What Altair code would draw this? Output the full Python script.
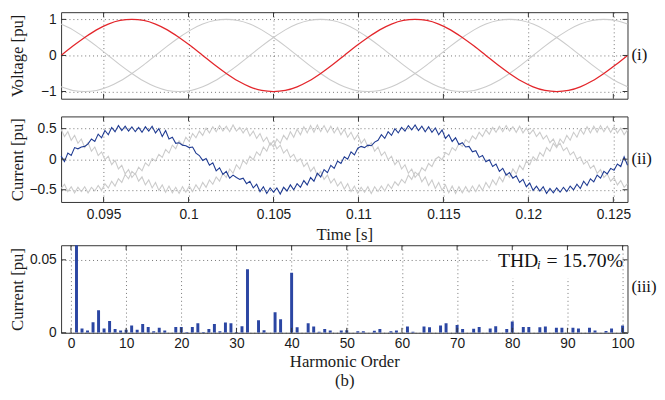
import altair as alt
import pandas as pd

# ---------------- data ----------------
# voltage (pu), sampled every 1/24 of a 60 Hz cycle from t = 0.0925 s
v_t0 = 0.0925
v_step = 1 / 60 / 24
v_red = [0, 0.26, 0.5, 0.71, 0.87, 0.97, 1, 0.97, 0.87, 0.71, 0.5, 0.26, 0, -0.26, -0.5, -0.71, -0.87, -0.97, -1, -0.97, -0.87, -0.71, -0.5, -0.26,
         0, 0.26, 0.5, 0.71, 0.87, 0.97, 1, 0.97, 0.87, 0.71, 0.5, 0.26, 0, -0.26, -0.5, -0.71, -0.87, -0.97, -1, -0.97, -0.87, -0.71, -0.5, -0.26, 0]
v_gray1 = [-0.87, -0.97, -1, -0.97, -0.87, -0.71, -0.5, -0.26, 0, 0.26, 0.5, 0.71, 0.87, 0.97, 1, 0.97, 0.87, 0.71, 0.5, 0.26, 0, -0.26, -0.5, -0.71,
           -0.87, -0.97, -1, -0.97, -0.87, -0.71, -0.5, -0.26, 0, 0.26, 0.5, 0.71, 0.87, 0.97, 1, 0.97, 0.87, 0.71, 0.5, 0.26, 0, -0.26, -0.5, -0.71, -0.87]
v_gray2 = [0.87, 0.71, 0.5, 0.26, 0, -0.26, -0.5, -0.71, -0.87, -0.97, -1, -0.97, -0.87, -0.71, -0.5, -0.26, 0, 0.26, 0.5, 0.71, 0.87, 0.97, 1, 0.97,
           0.87, 0.71, 0.5, 0.26, 0, -0.26, -0.5, -0.71, -0.87, -0.97, -1, -0.97, -0.87, -0.71, -0.5, -0.26, 0, 0.26, 0.5, 0.71, 0.87, 0.97, 1, 0.97, 0.87]

# current (pu), sampled every 1/84 of a cycle from t = 0.0925 s
c_t0 = 0.0925
c_step = 1 / 60 / 84
i_blue = [0.05, -0.04, 0.10, 0.06, 0.19, 0.17, 0.20, 0.21, 0.25, 0.33, 0.29, 0.41, 0.35, 0.47, 0.40, 0.52, 0.45, 0.55, 0.47, 0.54, 0.46,
          0.53, 0.45, 0.52, 0.44, 0.53, 0.46, 0.54, 0.43, 0.50, 0.37, 0.47, 0.33, 0.36, 0.26, 0.27, 0.23, 0.22, 0.19, 0.20, 0.10, 0.06,
          -0.02, 0.01, -0.10, -0.06, -0.19, -0.14, -0.25, -0.20, -0.31, -0.26, -0.30, -0.33, -0.31, -0.40, -0.36, -0.47, -0.41, -0.53, -0.45, -0.56, -0.47,
          -0.54, -0.47, -0.57, -0.46, -0.52, -0.42, -0.50, -0.40, -0.46, -0.35, -0.42, -0.30, -0.36, -0.23, -0.29, -0.17, -0.22, -0.10, -0.15, -0.03, -0.07,
          0.04, 0.00, 0.12, 0.07, 0.18, 0.21, 0.19, 0.23, 0.22, 0.28, 0.31, 0.40, 0.34, 0.45, 0.39, 0.50, 0.43, 0.52, 0.46, 0.55, 0.48,
          0.56, 0.47, 0.54, 0.45, 0.53, 0.44, 0.51, 0.40, 0.48, 0.34, 0.40, 0.29, 0.35, 0.24, 0.27, 0.20, 0.21, 0.12, 0.14, 0.03, 0.06,
          -0.04, -0.01, -0.12, -0.08, -0.20, -0.15, -0.26, -0.22, -0.31, -0.27, -0.38, -0.33, -0.45, -0.39, -0.51, -0.44, -0.52, -0.45, -0.56, -0.48, -0.55,
          -0.47, -0.54, -0.46, -0.53, -0.44, -0.50, -0.41, -0.48, -0.36, -0.43, -0.32, -0.37, -0.26, -0.31, -0.20, -0.24, -0.15, -0.18, -0.08, -0.12, 0.04, -0.10]
i_gray1 = [-0.48, -0.41, -0.53, -0.45, -0.55, -0.46, -0.53, -0.45, -0.55, -0.46, -0.52, -0.43, -0.51, -0.40, -0.47, -0.36, -0.44, -0.32, -0.38, -0.25,
           -0.32, -0.20, -0.25, -0.13, -0.19, -0.06, -0.11, 0.01,
           -0.03, 0.08, 0.03, 0.16, 0.10, 0.23, 0.17, 0.30, 0.23, 0.36, 0.29, 0.42, 0.35, 0.46, 0.39, 0.51, 0.43, 0.53, 0.45, 0.55, 0.46,
           0.54, 0.45, 0.56, 0.46, 0.52, 0.43, 0.51, 0.38, 0.46, 0.34, 0.42, 0.29, 0.36, 0.23, 0.30, 0.17, 0.23, 0.10, 0.16, 0.03, 0.08,
           -0.04, 0.01, -0.12, -0.06, -0.20, -0.13, -0.27, -0.20, -0.33, -0.26, -0.39, -0.32, -0.44, -0.37, -0.49, -0.40, -0.53, -0.44, -0.56, -0.46,
           -0.54, -0.45, -0.56, -0.45, -0.53, -0.44, -0.52, -0.41, -0.48, -0.37, -0.43, -0.33, -0.39, -0.26, -0.33, -0.21, -0.26, -0.14, -0.19, -0.07, -0.12, 0.00,
           0.04, -0.01, 0.11, 0.07, 0.19, 0.14, 0.26, 0.21, 0.32, 0.27, 0.38, 0.33, 0.44, 0.37, 0.48, 0.41, 0.52, 0.44, 0.54, 0.45,
           0.55, 0.46, 0.53, 0.44, 0.54, 0.43, 0.51, 0.41, 0.48, 0.37, 0.44, 0.33, 0.39, 0.27, 0.33, 0.21, 0.26, 0.14, 0.19, 0.07,
           0.12, 0.00, 0.04, -0.08, -0.03, -0.15, -0.10, -0.23, -0.17, -0.30, -0.24, -0.36, -0.30, -0.42, -0.35, -0.46, -0.40]
i_gray2 = [0.49, 0.37, 0.45, 0.31, 0.39, 0.26, 0.33, 0.19, 0.27, 0.13, 0.20, 0.06, 0.12, -0.01, 0.05, -0.09, -0.02, -0.16, -0.10, -0.24,
           -0.17, -0.30, -0.23, -0.36, -0.29, -0.42, -0.34, -0.47, -0.38, -0.51, -0.42, -0.54, -0.44, -0.55, -0.46, -0.56, -0.45, -0.54, -0.44, -0.53,
           -0.42, -0.50, -0.38, -0.46, -0.34, -0.41, -0.29, -0.36, -0.23, -0.30, -0.16, -0.23, -0.09, -0.16, -0.02, -0.08,
           0.05, -0.01, 0.12, 0.06, 0.20, 0.13, 0.27, 0.20, 0.33, 0.26, 0.39, 0.32, 0.45, 0.36, 0.49, 0.40, 0.53, 0.43, 0.55, 0.44, 0.56,
           0.45, 0.55, 0.44, 0.54, 0.43, 0.52, 0.40, 0.49, 0.36, 0.44, 0.32, 0.40, 0.26, 0.33, 0.20, 0.27, 0.13, 0.20, 0.06, 0.12, -0.01,
           0.05, -0.09, -0.02, -0.16, -0.09, -0.23, -0.16, -0.30, -0.23, -0.37, -0.29, -0.43, -0.34, -0.48, -0.38, -0.51, -0.42, -0.55, -0.44, -0.56,
           -0.45, -0.55, -0.45, -0.54, -0.44, -0.53, -0.42, -0.51, -0.38, -0.47, -0.34, -0.42, -0.29, -0.37, -0.23, -0.30, -0.16, -0.24, -0.10, -0.17, -0.03, -0.09,
           0.04, -0.02, 0.11, 0.05, 0.19, 0.13, 0.26, 0.19, 0.33, 0.26, 0.39, 0.31, 0.44, 0.36, 0.49, 0.41, 0.53, 0.43, 0.54, 0.44,
           0.55, 0.45, 0.54, 0.44, 0.53, 0.43, 0.51, 0.40, 0.48]

# harmonic spectrum (pu), orders 1..100
harm_order = list(range(1, 101))
harm_mag = [0.5, 0.003, 0.0015, 0.0072, 0.0155, 0.003, 0.008, 0.0025, 0.0015, 0.002,
            0.005, 0.002, 0.006, 0.004, 0.001, 0.0035, 0.0015, 0.0, 0.004, 0.004,
            0.0005, 0.004, 0.0065, 0.0005, 0.0025, 0.006, 0.001, 0.007, 0.0065, 0.0005,
            0.0045, 0.0435, 0.0, 0.0086, 0.0018, 0.0, 0.014, 0.0093, 0.0, 0.0412,
            0.0038, 0.0, 0.0066, 0.0043, 0.0007, 0.0025, 0.0016, 0.0, 0.0016, 0.0018,
            0.0, 0.0011, 0.0011, 0.0, 0.0013, 0.0025, 0.0, 0.001, 0.0015, 0.0,
            0.0043, 0.0007, 0.0, 0.0043, 0.0038, 0.0, 0.005, 0.0066, 0.0, 0.0054,
            0.0025, 0.0, 0.0027, 0.004, 0.0, 0.003, 0.0045, 0.0, 0.0025, 0.0077,
            0.0, 0.004, 0.004, 0.0, 0.0038, 0.0043, 0.0, 0.0035, 0.0035, 0.0,
            0.0035, 0.003, 0.0, 0.0035, 0.0015, 0.0, 0.0012, 0.003, 0.0, 0.005]

time_ticks = [0.095, 0.1, 0.105, 0.11, 0.115, 0.12, 0.125]
volt_ticks = [-1, 0, 1]
curr_ticks = [-0.5, 0, 0.5]
harm_ticks = [0, 10, 20, 30, 40, 50, 60, 70, 80, 90, 100]
spec_ticks = [0, 0.05]
thd_text = "= 15.70%"

# ---------------- styling ----------------
W = 576
H_TOP, H_MID, H_BOT = 88, 87, 89
FRAME = "#333333"
RED = "#e3262b"
BLUE = "#1f3b92"
BAR = "#2b46a3"
GRAY = "#cbcbcb"
SERIF = "Liberation Serif"

T_DOM = [0.0925, 0.0925 + 1 / 30]
V_DOM = [-1.2, 1.2]
I_DOM = [-0.7, 0.7]
H_DOM = [-0.9, 100]
S_DOM = [0, 0.06]

v_time = [v_t0 + k * v_step for k in range(len(v_red))]
c_time = [c_t0 + k * c_step for k in range(len(i_blue))]

df_v = pd.DataFrame({"x": v_time * 3, "y": v_red + v_gray1 + v_gray2,
                     "ph": ["a"] * len(v_red) + ["b"] * len(v_gray1) + ["c"] * len(v_gray2)})
df_i = pd.DataFrame({"x": c_time * 3, "y": i_blue + i_gray1 + i_gray2,
                     "ph": ["a"] * len(i_blue) + ["b"] * len(i_gray1) + ["c"] * len(i_gray2)})
df_h = pd.DataFrame({"x": harm_order, "y": harm_mag})


def make_panel(main_layers, xdom, ydom, xaxis, yaxis, xticks, yticks, h, side_text, side_y, extra=None):
    """All layers share field names x / y and the very same axis objects."""
    X = alt.X("x:Q", scale=alt.Scale(domain=xdom, nice=False, zero=False), axis=xaxis)
    Y = alt.Y("y:Q", scale=alt.Scale(domain=ydom, nice=False, zero=False), axis=yaxis)
    layers = [m.encode(x=X, y=Y) for m in main_layers]
    for m in (extra or []):
        layers.append(m(X, Y))
    xs = pd.DataFrame({"x": xticks})
    ys = pd.DataFrame({"y": yticks})
    L = 5
    layers.append(alt.Chart(xs).mark_rule(color=FRAME, strokeWidth=1).encode(x=X, y=alt.value(h), y2=alt.value(h - L)))
    layers.append(alt.Chart(xs).mark_rule(color=FRAME, strokeWidth=1).encode(x=X, y=alt.value(0), y2=alt.value(L)))
    layers.append(alt.Chart(ys).mark_rule(color=FRAME, strokeWidth=1).encode(y=Y, x=alt.value(0), x2=alt.value(L)))
    layers.append(alt.Chart(ys).mark_rule(color=FRAME, strokeWidth=1).encode(y=Y, x=alt.value(W), x2=alt.value(W - L)))
    layers.append(alt.Chart(pd.DataFrame({"y": [side_y], "lab": [side_text]})).mark_text(
        align="left", baseline="middle", font=SERIF, fontSize=17, color="#111"
    ).encode(x=alt.value(W + 4), y=Y, text="lab:N"))
    return alt.layer(*layers).properties(width=W, height=h)


def yaxis(values, title, fmt):
    return alt.Axis(values=values, title=title, format=fmt, labelPadding=5,
                    minExtent=35, maxExtent=35, titlePadding=0)


# ---------------- panel (i): voltage ----------------
v_gray = alt.Chart(df_v).transform_filter("datum.ph != 'a'").mark_line(
    color=GRAY, strokeWidth=1.1, interpolate="monotone").encode(detail="ph:N")
v_main = alt.Chart(df_v).transform_filter("datum.ph == 'a'").mark_line(
    color=RED, strokeWidth=1.3, interpolate="monotone")
top = make_panel([v_gray, v_main], T_DOM, V_DOM,
                 alt.Axis(values=time_ticks, title=None, format=".3~f", labelOpacity=0, labelPadding=1),
                 yaxis(volt_ticks, "Voltage [pu]", "d"), time_ticks, volt_ticks, H_TOP, "(i)", 0)

# ---------------- panel (ii): current ----------------
i_gray = alt.Chart(df_i).transform_filter("datum.ph != 'a'").mark_line(
    color=GRAY, strokeWidth=1.1).encode(detail="ph:N")
i_main = alt.Chart(df_i).transform_filter("datum.ph == 'a'").mark_line(color=BLUE, strokeWidth=1.1)
mid = make_panel([i_gray, i_main], T_DOM, I_DOM,
                 alt.Axis(values=time_ticks, title="Time [s]", format=".3~f", labelPadding=6, titlePadding=5),
                 yaxis(curr_ticks, "Current [pu]", ".1~f"), time_ticks, curr_ticks, H_MID, "(ii)", 0)

# ---------------- panel (iii): spectrum ----------------
bars = alt.Chart(df_h).mark_bar(size=3, color=BAR, clip=True)


def thd_box(X, Y):
    d = pd.DataFrame({"x": [76.0], "x2": [99.6], "y": [0.0375], "y2": [0.0575]})
    return alt.Chart(d).mark_rect(color="white").encode(x=X, x2="x2:Q", y=Y, y2="y2:Q")


def thd_part(txt, xv, yv, size, style="normal"):
    def f(X, Y):
        d = pd.DataFrame({"x": [xv], "y": [yv], "s": [txt]})
        return alt.Chart(d).mark_text(align="left", baseline="middle", font=SERIF, fontSize=size,
                                      fontStyle=style, color="#111").encode(x=X, y=Y, text="s:N")
    return f


bot = make_panel([bars], H_DOM, S_DOM,
                 alt.Axis(values=harm_ticks, title=["Harmonic Order", "(b)"], format="d",
                          labelPadding=4, titlePadding=3, titleLineHeight=20),
                 yaxis(spec_ticks, "Current [pu]", ".2~f"), harm_ticks, spec_ticks, H_BOT, "(iii)", 0.031,
                 extra=[thd_box, thd_part("THD", 77.4, 0.0492, 20), thd_part("i", 84.5, 0.0462, 13, "italic"),
                        thd_part(thd_text, 86.2, 0.0492, 20)])

chart = alt.vconcat(top, mid, bot, spacing=1).properties(
    padding={"left": 0, "top": 0, "right": 0, "bottom": 0}, background="white"
).configure_view(stroke=FRAME, strokeWidth=1).configure_axis(
    domain=False, ticks=False, grid=True, gridColor="#444444", gridDash=[1, 3], gridWidth=1, gridOpacity=0.75,
    labelFont="Liberation Sans", labelFontSize=14, labelColor="#1a1a1a",
    titleFont=SERIF, titleFontSize=17, titleFontWeight="normal", titleColor="#1a1a1a"
)

chart.save("out.html", embed_options={"renderer": "svg", "actions": False})
